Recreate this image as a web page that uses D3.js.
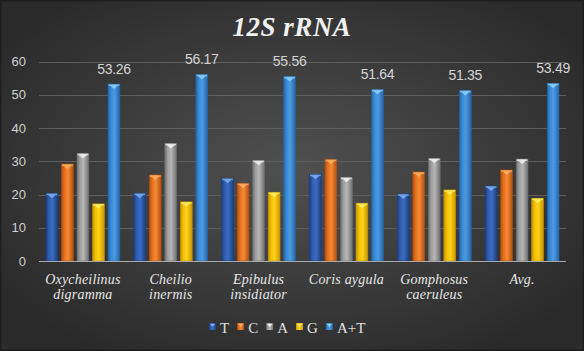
<!DOCTYPE html>
<html>
<head>
<meta charset="utf-8">
<script src="https://cdn.jsdelivr.net/npm/d3@7"></script>
<style>
  html, body { margin: 0; padding: 0; background: #1e1e1e; }
  svg { display: block; }
</style>
</head>
<body>
<svg id="chart" width="584" height="351"></svg>
<script>
const categories = ['Oxycheilinus digramma', 'Cheilio inermis', 'Epibulus insidiator', 'Coris aygula', 'Gomphosus caeruleus', 'Avg.']
const labelLines = [['Oxycheilinus', 'digramma'], ['Cheilio', 'inermis'], ['Epibulus', 'insidiator'], ['Coris aygula'], ['Gomphosus', 'caeruleus'], ['Avg.']]
const seriesNames = ['T', 'C', 'A', 'G', 'A+T']
const valuesT = [20.4, 20.4, 24.9, 26.1, 20.2, 22.6]
const valuesC = [29.2, 25.9, 23.4, 30.6, 26.8, 27.4]
const valuesA = [32.4, 35.4, 30.3, 25.2, 30.9, 30.7]
const valuesG = [17.2, 17.8, 20.7, 17.4, 21.4, 18.9]
const valuesAT = [53.26, 56.17, 55.56, 51.64, 51.35, 53.49]
const yTicks = [0, 10, 20, 30, 40, 50, 60]

// bar colours: [base, dark edge, light centre, bevel]
const colors = {
  'T': ['#2f5db0', '#1d3f80', '#3b6cc4', '#7fb0ee'],
  'C': ['#e8711f', '#b4500f', '#f58a35', '#ffb064'],
  'A': ['#a0a0a0', '#707070', '#b5b5b5', '#f2f2f2'],
  'G': ['#f5c000', '#c89400', '#ffd21a', '#fff06a'],
  'A+T': ['#3a8ad6', '#2467aa', '#4c9ae2', '#8fd0fa']
}

function drawChart() {
  const svg = d3.select('#chart')
  const width = 584
  const height = 351
  const margin = { left: 39, right: 18, top: 62, bottom: 90 }

  const series = seriesNames.map((name, i) => ({
    name,
    values: [valuesT, valuesC, valuesA, valuesG, valuesAT][i]
  }))

  const defs = svg.append('defs')

  const bg = defs.append('radialGradient')
    .attr('id', 'bg')
    .attr('cx', '50%').attr('cy', '48%').attr('r', '62%')
  bg.append('stop').attr('offset', '0%').attr('stop-color', '#505050')
  bg.append('stop').attr('offset', '100%').attr('stop-color', '#2a2a2a')

  seriesNames.forEach((name, i) => {
    const c = colors[name]
    const g = defs.append('linearGradient')
      .attr('id', 'grad' + i)
      .attr('x1', '0%').attr('x2', '100%').attr('y1', '0%').attr('y2', '0%')
    g.append('stop').attr('offset', '0%').attr('stop-color', c[1])
    g.append('stop').attr('offset', '25%').attr('stop-color', c[0])
    g.append('stop').attr('offset', '55%').attr('stop-color', c[2])
    g.append('stop').attr('offset', '100%').attr('stop-color', c[1])
  })

  svg.append('rect')
    .attr('width', width).attr('height', height)
    .attr('fill', '#1e1e1e')
  svg.append('rect')
    .attr('x', 1.5).attr('y', 1.5)
    .attr('width', width - 3).attr('height', height - 3)
    .attr('fill', 'url(#bg)')

  svg.append('text')
    .attr('x', 292).attr('y', 36)
    .attr('text-anchor', 'middle')
    .attr('font-family', '"Liberation Serif", "Times New Roman", serif')
    .attr('font-style', 'italic')
    .attr('font-weight', 'bold')
    .attr('font-size', 27)
    .attr('letter-spacing', 0.5)
    .attr('fill', '#f2f2f2')
    .text('12S rRNA')

  const x0 = d3.scaleBand()
    .domain(categories)
    .range([margin.left, width - margin.right])
    .paddingInner(0)
    .paddingOuter(0)

  const x1 = d3.scaleBand()
    .domain(seriesNames)
    .range([7, x0.bandwidth() - 7])
    .paddingInner(0.24)

  const y = d3.scaleLinear()
    .domain([0, 60])
    .range([height - margin.bottom, margin.top - 0.3])

  // gridlines
  svg.append('g')
    .selectAll('line')
    .data(yTicks.filter(d => d > 0))
    .join('line')
    .attr('x1', margin.left).attr('x2', width - margin.right)
    .attr('y1', d => Math.round(y(d)) + 0.5).attr('y2', d => Math.round(y(d)) + 0.5)
    .attr('stroke', '#5e5e5e')
    .attr('stroke-width', 1)

  // y tick labels
  svg.append('g')
    .selectAll('text')
    .data(yTicks)
    .join('text')
    .attr('x', 26)
    .attr('y', d => y(d))
    .attr('dy', '0.35em')
    .attr('text-anchor', 'end')
    .attr('font-family', '"Liberation Sans", Arial, sans-serif')
    .attr('font-size', 13)
    .attr('fill', '#d0d0d0')
    .text(d => d)

  // bars
  const groups = svg.append('g')
    .selectAll('g')
    .data(series)
    .join('g')

  groups.each(function(s, si) {
    const g = d3.select(this)
    const bars = s.values.map((v, ci) => ({ v, cat: categories[ci], name: s.name }))
    const bw = x1.bandwidth()

    g.selectAll('rect.bar')
      .data(bars)
      .join('rect')
      .attr('class', 'bar')
      .attr('x', d => x0(d.cat) + x1(d.name))
      .attr('y', d => y(d.v))
      .attr('width', bw)
      .attr('height', d => y(0) - y(d.v))
      .attr('fill', 'url(#grad' + si + ')')
      .attr('stroke', colors[s.name][1])
      .attr('stroke-width', 0.6)

    // bevel at top
    g.selectAll('rect.cap')
      .data(bars)
      .join('rect')
      .attr('class', 'cap')
      .attr('x', d => x0(d.cat) + x1(d.name) + 0.5)
      .attr('y', d => y(d.v) + 0.3)
      .attr('width', bw - 1)
      .attr('height', 1.6)
      .attr('fill', colors[s.name][3])
      .attr('opacity', 0.8)

    g.selectAll('path.tri')
      .data(bars)
      .join('path')
      .attr('class', 'tri')
      .attr('d', d => {
        const bx = x0(d.cat) + x1(d.name)
        const by = y(d.v)
        return `M${bx + 2},${by + 1.5}L${bx + bw - 2},${by + 1.5}L${bx + bw / 2},${by + 5}Z`
      })
      .attr('fill', colors[s.name][3])
      .attr('opacity', 0.85)
  })

  // data labels on A+T
  svg.append('g')
    .selectAll('text')
    .data(valuesAT)
    .join('text')
    .attr('x', (d, i) => x0(categories[i]) + x1('A+T') + x1.bandwidth() / 2)
    .attr('y', d => y(d) - 10)
    .attr('text-anchor', 'middle')
    .attr('font-family', '"Liberation Sans", Arial, sans-serif')
    .attr('font-size', 14)
    .attr('letter-spacing', -0.3)
    .attr('fill', '#d4d4d4')
    .text(d => d.toFixed(2))

  // x axis line
  svg.append('line')
    .attr('x1', margin.left).attr('x2', width - margin.right)
    .attr('y1', y(0) + 0.5).attr('y2', y(0) + 0.5)
    .attr('stroke', '#a8a8a8')
    .attr('stroke-width', 1.2)

  // category labels
  svg.append('g')
    .selectAll('text')
    .data(categories)
    .join('text')
    .attr('x', d => x0(d) + x0.bandwidth() / 2)
    .attr('y', 284)
    .attr('text-anchor', 'middle')
    .attr('font-family', '"Liberation Serif", "Times New Roman", serif')
    .attr('font-style', 'italic')
    .attr('font-size', 14)
    .attr('letter-spacing', 0.2)
    .attr('fill', '#e6e6e6')
    .each(function(d, i) {
      d3.select(this).selectAll('tspan')
        .data(labelLines[i])
        .join('tspan')
        .attr('x', x0(d) + x0.bandwidth() / 2)
        .attr('dy', (t, j) => j === 0 ? 0 : 15)
        .text(t => t)
    })

  // legend
  const legend = svg.append('g')
  let lx = 209
  seriesNames.forEach((name, i) => {
    const item = legend.append('g')
      .attr('transform', `translate(${lx},323)`)
    item.append('rect')
      .attr('width', 7).attr('height', 7)
      .attr('fill', 'url(#grad' + i + ')')
    item.append('path')
      .attr('d', 'M1,1L6,1L3.5,4Z')
      .attr('fill', colors[name][3])
    const t = item.append('text')
      .attr('x', 11)
      .attr('y', 10)
      .attr('font-family', '"Liberation Serif", "Times New Roman", serif')
      .attr('font-size', 15)
      .attr('fill', '#e0e0e0')
      .text(name)
    lx += 11 + t.node().getComputedTextLength() + 8
  })
}

document.addEventListener('DOMContentLoaded', drawChart, false)
</script>
</body>
</html>
